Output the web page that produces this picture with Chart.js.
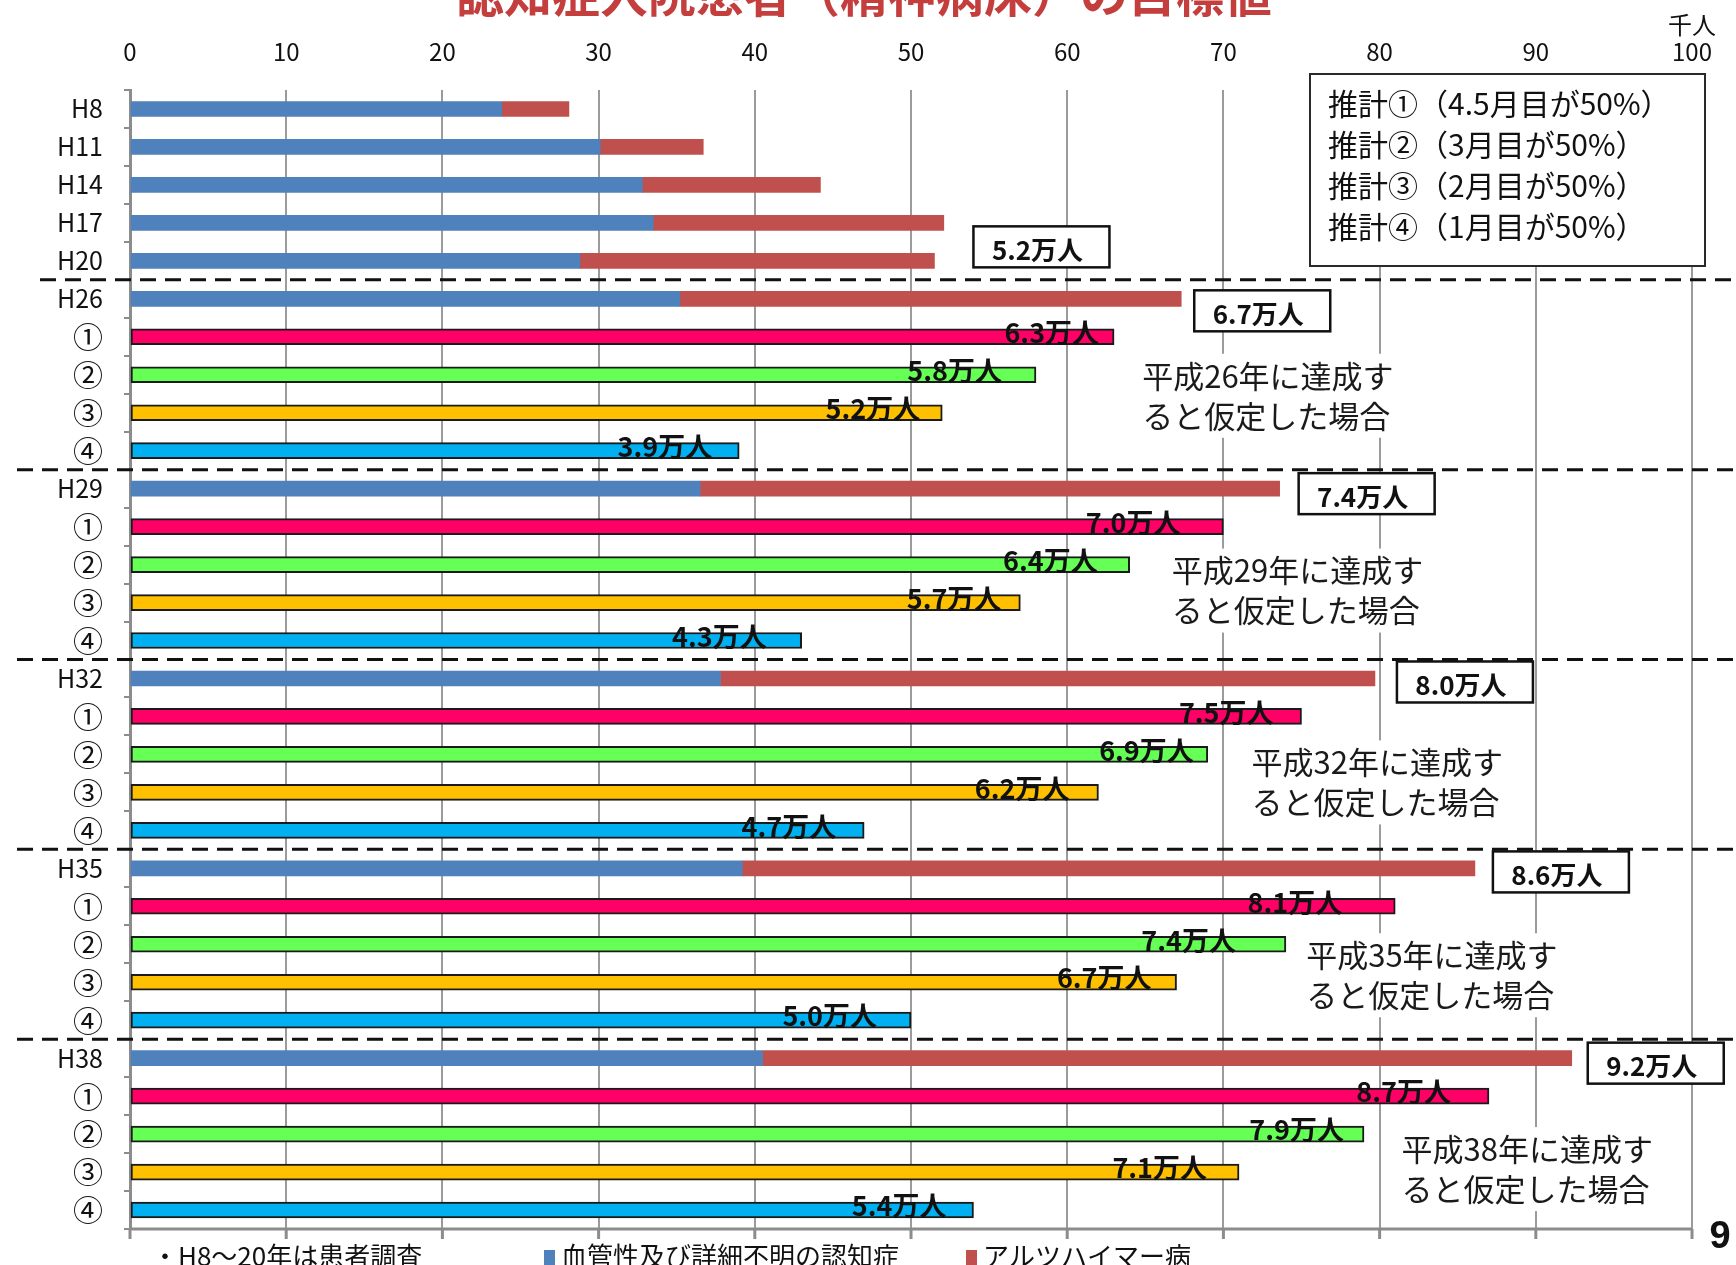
<!DOCTYPE html>
<html lang="ja">
<head>
<meta charset="utf-8">
<title>認知症入院患者（精神病床）の目標値</title>
<script src="https://cdn.jsdelivr.net/npm/chart.js@4.4.1/dist/chart.umd.min.js"></script>
<style>
  html, body { margin: 0; padding: 0; background: #fff; }
  canvas { display: block; }
</style>
</head>
<body>
<canvas id="chart" width="1736" height="1265"></canvas>
<script>
// ---- データ（単位：千人） ----
const surveyYears = ['H8', 'H11', 'H14', 'H17', 'H20'];
const targetYears = ['H26', 'H29', 'H32', 'H35', 'H38'];
const targetEra = [26, 29, 32, 35, 38];
const estimateMarks = ['①', '②', '③', '④'];

// 実績・将来推計（血管性＋アルツハイマー）
const vascular  = [23.8, 30.1, 32.8, 33.5, 28.8, 35.2, 36.5, 37.8, 39.2, 40.5];
const alzheimer = [4.3, 6.6, 11.4, 18.6, 22.7, 32.1, 37.1, 41.9, 46.9, 51.8];

// 目標値（推計①〜④）
const estimate1 = [63, 70, 75, 81, 87];
const estimate2 = [58, 64, 69, 74, 79];
const estimate3 = [52, 57, 62, 67, 71];
const estimate4 = [39, 43, 47, 50, 54];
const estimateNames = [
  '推計①（4.5月目が50%）',
  '推計②（3月目が50%）',
  '推計③（2月目が50%）',
  '推計④（1月目が50%）'
];

// ---- 表示スタイル ----
const FONT = '"Noto Sans CJK JP", "Noto Sans CJK SC", sans-serif';
const COLOR_VASCULAR = '#4F81BD';
const COLOR_ALZ = '#C0504D';
const ESTIMATE_COLORS = ['#FF0066', '#66FF55', '#FFC000', '#00B0F0'];
const GRID = '#9b9b9b';
const AXIS = '#8c8c8c';

// 合計ラベル枠の位置（棒の先端からのずれ：横, 縦）
const totalBoxNudge = { H20: [39, -14], H26: [13, 12], H29: [19, 5], H32: [22, 3.5], H35: [18, 3.6], H38: [16, 5] };
// 推計棒の数値ラベル：棒の先端から文字右端までの間隔
const valueLabelGap = [
  [15, 34, 22, 27],
  [43, 32, 19, 35],
  [28, 14, 29, 28],
  [53, 50, 25, 34],
  [38, 20, 32, 27]
];
// 「平成○年に達成すると仮定した場合」の位置（横：目盛り値, 縦：②行からのずれ）
const noteAt = [64.8, 66.7, 71.8, 75.3, 81.4];
const noteDy = [1, 6, 8, 11, 15];

// ---- カテゴリ（縦軸）とデータ配置 ----
const categories = [...surveyYears];
targetYears.forEach(y => categories.push(y, ...estimateMarks));

const yearRows = [...surveyYears, ...targetYears].map(y => categories.indexOf(y));
const estimateRows = k => targetYears.map(y => categories.indexOf(y) + k + 1);
const estimates = [estimate1, estimate2, estimate3, estimate4];

function placeOnRows(values, rows) {
  const out = new Array(categories.length).fill(null);
  rows.forEach((r, i) => { out[r] = values[i]; });
  return out;
}

const datasets = [
  {
    label: '血管性及び詳細不明の認知症',
    data: placeOnRows(vascular, yearRows),
    backgroundColor: COLOR_VASCULAR,
    barThickness: 15,
    stack: 's'
  },
  {
    label: 'アルツハイマー病',
    data: placeOnRows(alzheimer, yearRows),
    backgroundColor: COLOR_ALZ,
    barThickness: 15,
    stack: 's'
  },
  ...estimates.map((vals, k) => ({
    label: estimateNames[k],
    data: placeOnRows(vals, estimateRows(k)),
    backgroundColor: ESTIMATE_COLORS[k],
    borderColor: '#1a1a1a',
    borderWidth: 2,
    borderSkipped: false,
    barThickness: 16,
    stack: 's'
  }))
];

// ---- 注記・枠・区切り線などの描画 ----
const overlay = {
  id: 'overlay',
  afterDraw(chart) {
    const ctx = chart.ctx;
    const xs = chart.scales.x;
    const ys = chart.scales.y;
    const area = chart.chartArea;
    ctx.save();

    // タイトル（上端で切れている）
    ctx.fillStyle = '#C43E3E';
    ctx.font = 'bold 48px ' + FONT;
    ctx.textAlign = 'left';
    ctx.textBaseline = 'alphabetic';
    ctx.fillText('認知症入院患者（精神病床）の目標値', 456, 12);

    // 単位
    ctx.fillStyle = '#111';
    ctx.font = '24px ' + FONT;
    ctx.textAlign = 'center';
    ctx.textBaseline = 'middle';
    ctx.fillText('千人', xs.getPixelForValue(100), 25);

    // 下側の軸線と目盛り
    ctx.strokeStyle = AXIS;
    ctx.lineWidth = 3;
    ctx.beginPath();
    ctx.moveTo(area.left - 1, area.bottom);
    ctx.lineTo(area.right, area.bottom);
    for (let v = 0; v <= 100; v += 10) {
      const px = xs.getPixelForValue(v);
      ctx.moveTo(px, area.bottom);
      ctx.lineTo(px, area.bottom + 10);
    }
    ctx.stroke();

    // 「平成○年に達成すると仮定した場合」
    ctx.font = '31px ' + FONT;
    ctx.textAlign = 'left';
    ctx.textBaseline = 'middle';
    targetYears.forEach((y, g) => {
      const row2 = categories.indexOf(y) + 2;
      const x = xs.getPixelForValue(noteAt[g]);
      const y1 = ys.getPixelForValue(row2) + noteDy[g];
      const y2 = y1 + 40;
      const l1 = '平成' + targetEra[g] + '年に達成す';
      const l2 = 'ると仮定した場合';
      const w = Math.max(ctx.measureText(l1).width, ctx.measureText(l2).width);
      ctx.fillStyle = '#fff';
      ctx.fillRect(x - 6, y1 - 22, w + 12, (y2 - y1) + 44);
      ctx.fillStyle = '#1a1a1a';
      ctx.fillText(l1, x, y1);
      ctx.fillText(l2, x, y2);
    });

    // 推計の凡例枠
    ctx.fillStyle = '#fff';
    ctx.fillRect(1310, 74, 395, 192);
    ctx.strokeStyle = '#2a2a2a';
    ctx.lineWidth = 2;
    ctx.strokeRect(1310, 74, 395, 192);
    ctx.fillStyle = '#111';
    ctx.font = '30px ' + FONT;
    ctx.textAlign = 'left';
    ctx.textBaseline = 'middle';
    for (let k = 0; k < 4; k++) {
      ctx.fillText(chart.data.datasets[2 + k].label, 1328, 104 + k * 41);
    }

    // 合計値の枠（H20以降）
    const redMeta = chart.getDatasetMeta(1);
    [...surveyYears, ...targetYears].forEach((y, i) => {
      const nudge = totalBoxNudge[y];
      if (!nudge) return;
      const bar = redMeta.data[yearRows[i]];
      const total = vascular[i] + alzheimer[i];
      const text = (Math.round(total) / 10).toFixed(1) + '万人';
      const bx = bar.x + nudge[0];
      const by = bar.y + nudge[1];
      ctx.fillStyle = '#fff';
      ctx.fillRect(bx, by - 20.5, 136, 41);
      ctx.strokeStyle = '#111';
      ctx.lineWidth = 2.5;
      ctx.strokeRect(bx, by - 20.5, 136, 41);
      ctx.fillStyle = '#111';
      ctx.font = 'bold 26px ' + FONT;
      ctx.textAlign = 'center';
      ctx.textBaseline = 'middle';
      ctx.fillText(text, bx + 64, by + 3);
    });

    // 区切りの破線
    ctx.strokeStyle = '#111';
    ctx.lineWidth = 3;
    ctx.setLineDash([16, 9]);
    targetYears.forEach((y, g) => {
      const r = categories.indexOf(y);
      const py = (ys.getPixelForValue(r - 1) + ys.getPixelForValue(r)) / 2;
      ctx.beginPath();
      ctx.moveTo(g === 0 ? 40 : 17, py);
      ctx.lineTo(chart.width, py);
      ctx.stroke();
    });
    ctx.setLineDash([]);

    // 推計棒の数値ラベル
    ctx.fillStyle = '#111';
    ctx.font = 'bold 27px ' + FONT;
    ctx.textAlign = 'right';
    ctx.textBaseline = 'middle';
    estimates.forEach((vals, k) => {
      const meta = chart.getDatasetMeta(2 + k);
      estimateRows(k).forEach((r, g) => {
        const bar = meta.data[r];
        ctx.fillText((vals[g] / 10).toFixed(1) + '万人', bar.x - valueLabelGap[g][k], bar.y - 4);
      });
    });

    // 下部の注記と凡例
    ctx.font = '26px ' + FONT;
    ctx.textAlign = 'left';
    ctx.textBaseline = 'middle';
    ctx.fillStyle = '#111';
    ctx.fillText('・H8～20年は患者調査', 152, 1256);
    const legendItems = [
      { ds: chart.data.datasets[0], x: 544 },
      { ds: chart.data.datasets[1], x: 966 }
    ];
    legendItems.forEach(it => {
      ctx.fillStyle = it.ds.backgroundColor;
      ctx.fillRect(it.x, 1250, 11, 15);
      ctx.fillStyle = '#111';
      ctx.fillText(it.ds.label, it.x + 17, 1256);
    });

    // ページ番号
    ctx.font = 'bold 38px "Liberation Sans", sans-serif';
    ctx.textAlign = 'center';
    ctx.textBaseline = 'middle';
    ctx.fillText('9', 1720, 1238);

    ctx.restore();
  }
};

new Chart(document.getElementById('chart'), {
  type: 'bar',
  data: { labels: categories, datasets },
  plugins: [overlay],
  options: {
    indexAxis: 'y',
    responsive: false,
    animation: false,
    devicePixelRatio: 1,
    layout: { padding: { left: 0, top: 0, right: 33, bottom: 36 } },
    plugins: {
      legend: { display: false },
      tooltip: { enabled: false },
      title: { display: false }
    },
    scales: {
      x: {
        position: 'top',
        stacked: true,
        min: 0,
        max: 100,
        ticks: {
          stepSize: 10,
          color: '#111',
          font: { family: FONT, size: 24 },
          padding: 24
        },
        grid: { color: GRID, lineWidth: 2, drawTicks: false },
        border: { display: false },
        afterFit(scale) { scale.height = 90; }
      },
      y: {
        stacked: true,
        ticks: {
          autoSkip: false,
          color: '#111',
          padding: 21,
          font: c => estimateMarks.includes(categories[c.index])
            ? { family: FONT, size: 30 }
            : { family: FONT, size: 25 }
        },
        grid: {
          offset: true,
          drawOnChartArea: false,
          tickLength: 6,
          color: AXIS,
          lineWidth: 2
        },
        border: { display: true, color: AXIS, width: 3 },
        afterFit(scale) { scale.width = 130; }
      }
    }
  }
});
</script>
</body>
</html>
